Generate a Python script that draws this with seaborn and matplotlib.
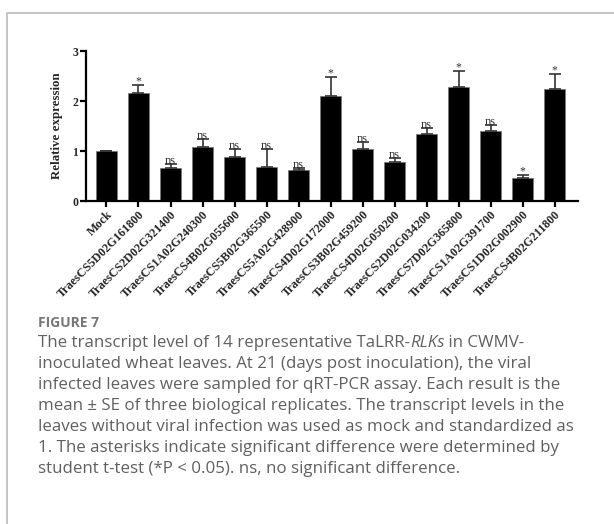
import matplotlib
matplotlib.use('Agg')
import matplotlib.pyplot as plt
import seaborn as sns
import pandas as pd
from matplotlib.lines import Line2D

# chart values
genes = ['Mock', 'TraesCS5D02G161800', 'TraesCS2D02G321400', 'TraesCS1A02G240300',
         'TraesCS4B02G055600', 'TraesCS5B02G365500', 'TraesCS5A02G428900',
         'TraesCS4D02G172000', 'TraesCS3B02G459200', 'TraesCS4D02G050200',
         'TraesCS2D02G034200', 'TraesCS7D02G365800', 'TraesCS1A02G391700',
         'TraesCS1D02G002900', 'TraesCS4B02G211800']
expression = [1.00, 2.16, 0.67, 1.09, 0.89, 0.69, 0.63, 2.11, 1.04, 0.79, 1.35, 2.28, 1.41, 0.47, 2.25]
se = [0.00, 0.17, 0.08, 0.15, 0.16, 0.36, 0.04, 0.38, 0.15, 0.08, 0.12, 0.33, 0.11, 0.06, 0.30]
marks = ['', '*', 'ns', 'ns', 'ns', 'ns', 'ns', '*', 'ns', 'ns', 'ns', '*', 'ns', '*', '*']
yticks = [0, 1, 2, 3]

caption_lines = [
    ['The transcript level of 14 representative TaLRR-', ('RLKs', 'italic'), ' in CWMV-'],
    ['inoculated wheat leaves. At 21 (days post inoculation), the viral'],
    ['infected leaves were sampled for qRT-PCR assay. Each result is the'],
    ['mean \u00b1 SE of three biological replicates. The transcript levels in the'],
    ['leaves without viral infection was used as mock and standardized as'],
    ['1. The asterisks indicate significant difference were determined by'],
    ['student t-test (*P < 0.05). ns, no significant difference.'],
]

df = pd.DataFrame({'gene': genes, 'expr': expression, 'se': se})

sns.set_style('ticks')
plt.rcParams['font.family'] = ['Liberation Serif', 'DejaVu Serif']

W, H = 614, 524
fig = plt.figure(figsize=(W / 100, H / 100), dpi=100)
ax = fig.add_axes([86 / W, 1 - 201 / H, (578 - 86) / W, (201 - 51) / H])

sns.barplot(data=df, x='gene', y='expr', order=genes, color='black', width=0.66,
            edgecolor='#777777', linewidth=0.5, saturation=1, errorbar=None, ax=ax)
for p in ax.patches:
    p.set_facecolor('black')

xpos = range(len(genes))
ax.errorbar(xpos, expression, yerr=[[0] * len(se), se], fmt='none', ecolor='#333333',
            elinewidth=1.2, capsize=4.5, capthick=1.2)

for i, (v, e, m) in enumerate(zip(expression, se, marks)):
    if m:
        ax.text(i, v + e, m, ha='center', va='baseline',
                fontsize=9 if m == 'ns' else 8.5, color='#333333')

ax.set_xlim(-0.64, 14.73)
ax.set_ylim(0, 3)
ax.set_yticks(yticks)
ax.set_yticklabels([str(t) for t in yticks], fontweight='bold', fontsize=8.5)
ax.set_xticks(list(xpos))
ax.set_xticklabels(genes, rotation=45, ha='right', rotation_mode='anchor',
                   fontweight='bold', fontsize=8.7)
ax.set_xlabel('')
ax.set_ylabel('Relative expression', fontweight='bold', fontsize=9.3, labelpad=7)
sns.despine(ax=ax)
for s in ['left', 'bottom']:
    ax.spines[s].set_linewidth(1.6)
    ax.spines[s].set_color('black')
ax.tick_params(axis='both', width=1.6, length=4, direction='out', color='black', pad=1.5)

# page frame
fig.add_artist(Line2D([7 / W, 7 / W, 1], [0, 1 - 13 / H, 1 - 13 / H],
                      transform=fig.transFigure, color='#bbbbbb', lw=1.2))

cap_font = ['Open Sans', 'DejaVu Sans']
fig.text(38 / W, 1 - 327 / H, 'FIGURE 7', family=cap_font, fontsize=10,
         fontweight='bold', color='#777777', va='baseline')

renderer = fig.canvas.get_renderer()
y0 = 347
for k, line in enumerate(caption_lines):
    x = 38 / W
    y = 1 - (y0 + k * 21) / H
    for piece in line:
        if isinstance(piece, tuple):
            txt, style = piece
        else:
            txt, style = piece, 'normal'
        t = fig.text(x, y, txt, family=cap_font, fontsize=12.2, style=style,
                     color='#606060', va='baseline')
        bb = t.get_window_extent(renderer)
        x = bb.x1 / W

fig.savefig('out.png', dpi=100)
